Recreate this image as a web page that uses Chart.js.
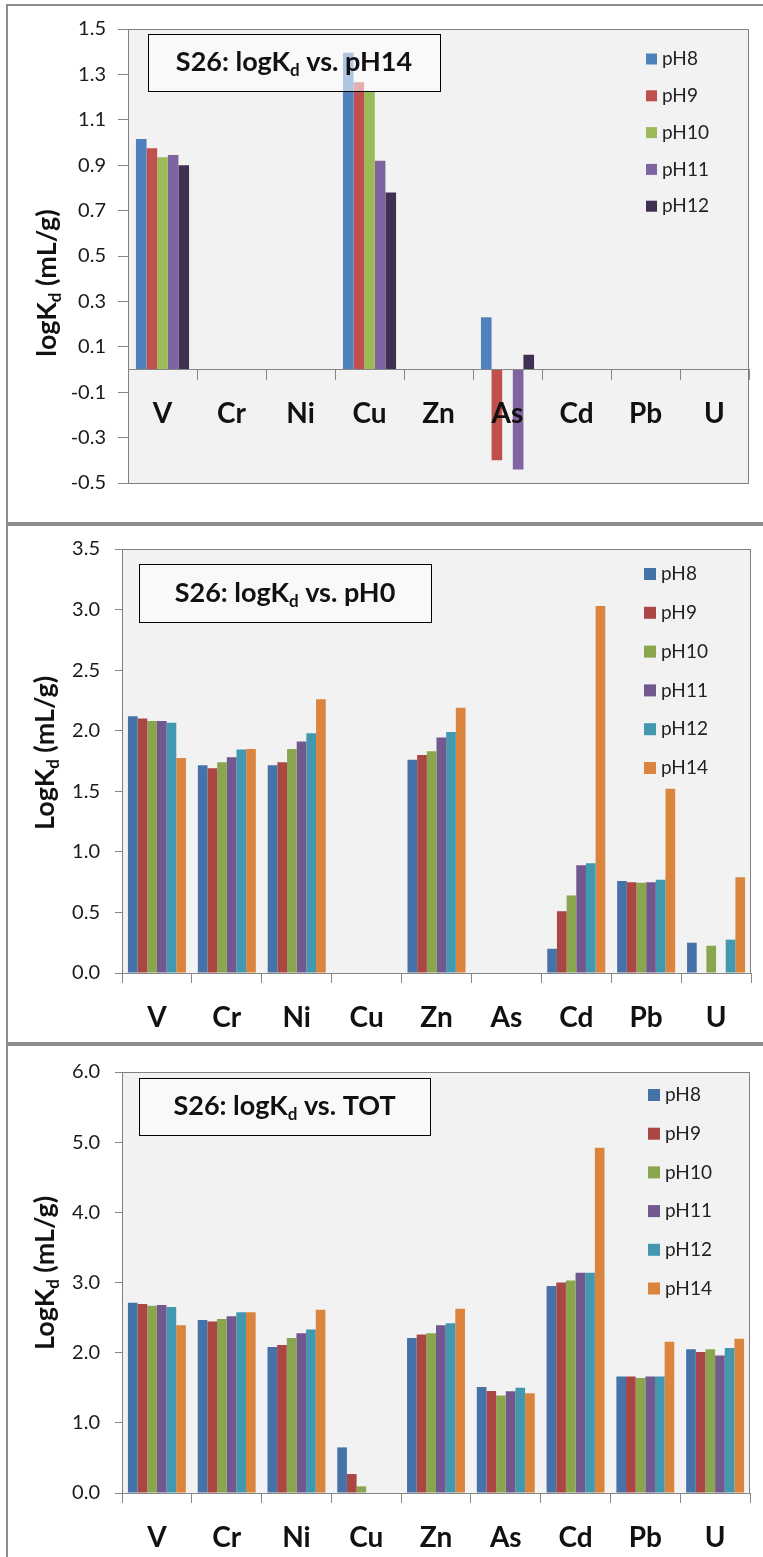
<!DOCTYPE html>
<html>
<head>
<meta charset="utf-8">
<script src="https://cdn.jsdelivr.net/npm/chart.js@4.4.1/dist/chart.umd.min.js"></script>
<style>
  html, body { margin: 0; padding: 0; background: #fff; }
  #page { position: relative; width: 763px; height: 1557px; overflow: hidden; }
  .frame { position: absolute; left: 6px; width: 800px; border-left: 2px solid #8c8c8c; border-top: 2px solid #8c8c8c; box-sizing: border-box; }
  canvas { position: absolute; left: 0; }
</style>
</head>
<body>
<div id="page">
  <div class="frame" style="top:4px;height:520px"></div>
  <div class="frame" style="top:522px;height:523px;border-top-width:4px"></div>
  <div class="frame" style="top:1042px;height:515px;border-top-width:4px"></div>
  <canvas id="c1" width="763" height="522" style="top:0"></canvas>
  <canvas id="c2" width="763" height="523" style="top:522px"></canvas>
  <canvas id="c3" width="763" height="512" style="top:1045px"></canvas>
</div>
<script>
// ---- data ----
const metals = ['V', 'Cr', 'Ni', 'Cu', 'Zn', 'As', 'Cd', 'Pb', 'U'];

// S26: logKd vs. pH14
const p1Series = ['pH8', 'pH9', 'pH10', 'pH11', 'pH12'];
const p1pH8  = [1.015, null, null, 1.395, null, 0.23,  null, null, null];
const p1pH9  = [0.975, null, null, 1.265, null, -0.40, null, null, null];
const p1pH10 = [0.935, null, null, 1.225, null, null,  null, null, null];
const p1pH11 = [0.945, null, null, 0.92,  null, -0.44, null, null, null];
const p1pH12 = [0.90,  null, null, 0.78,  null, 0.065, null, null, null];
const p1Ticks = [-0.5, -0.3, -0.1, 0.1, 0.3, 0.5, 0.7, 0.9, 1.1, 1.3, 1.5];

// S26: logKd vs. pH0
const p2Series = ['pH8', 'pH9', 'pH10', 'pH11', 'pH12', 'pH14'];
const p2pH8  = [2.12,  1.715, 1.715, null, 1.76,  null, 0.20,  0.76,  0.25];
const p2pH9  = [2.10,  1.69,  1.74,  null, 1.80,  null, 0.51,  0.75,  -0.015];
const p2pH10 = [2.08,  1.74,  1.85,  null, 1.83,  null, 0.64,  0.745, 0.225];
const p2pH11 = [2.08,  1.78,  1.91,  null, 1.945, null, 0.89,  0.75,  null];
const p2pH12 = [2.065, 1.845, 1.98,  null, 1.99,  null, 0.905, 0.77,  0.275];
const p2pH14 = [1.775, 1.85,  2.26,  null, 2.19,  null, 3.03,  1.52,  0.79];
const p2Ticks = [0, 0.5, 1.0, 1.5, 2.0, 2.5, 3.0, 3.5];

// S26: logKd vs. TOT
const p3Series = ['pH8', 'pH9', 'pH10', 'pH11', 'pH12', 'pH14'];
const p3pH8  = [2.71,  2.465, 2.08,  0.65,  2.21,  1.51,  2.95, 1.66,  2.05];
const p3pH9  = [2.695, 2.445, 2.11,  0.27,  2.26,  1.455, 3.00, 1.66,  2.01];
const p3pH10 = [2.67,  2.48,  2.21,  0.095, 2.275, 1.39,  3.03, 1.64,  2.05];
const p3pH11 = [2.68,  2.52,  2.275, null,  2.39,  1.45,  3.14, 1.66,  1.96];
const p3pH12 = [2.65,  2.575, 2.33,  null,  2.42,  1.50,  3.14, 1.66,  2.065];
const p3pH14 = [2.39,  2.575, 2.61,  null,  2.625, 1.42,  4.92, 2.155, 2.20];
const p3Ticks = [0, 1, 2, 3, 4, 5, 6];

const colorsLight = ['#4F81BD', '#C0504D', '#9BBB59', '#8064A2', '#403152'];
const colorsDark = ['#4572A7', '#AA4643', '#89A54E', '#71588F', '#4198AF', '#DB843D'];

Chart.defaults.font.family = 'Lato, "Open Sans", sans-serif';
Chart.defaults.color = '#1a1a1a';

// draw text with a subscript part, centred on (x, y)
function drawRich(ctx, parts, x, y, size) {
  const fontOf = p => 'bold ' + (p.sub ? Math.round(size * 0.62) : size) + 'px Lato';
  let total = 0;
  const widths = parts.map(p => { ctx.font = fontOf(p); const w = ctx.measureText(p.t).width; total += w; return w; });
  let cx = x - total / 2;
  ctx.textAlign = 'left';
  ctx.textBaseline = 'middle';
  parts.forEach((p, i) => {
    ctx.font = fontOf(p);
    ctx.fillText(p.t, cx, p.sub ? y + size * 0.3 : y);
    cx += widths[i];
  });
}

// plot area fill, border, title box, legend and axis title
const excelLook = {
  id: 'excelLook',
  beforeDraw(chart) {
    const { ctx, chartArea: a } = chart;
    ctx.save();
    ctx.fillStyle = '#f2f2f2';
    ctx.fillRect(a.left, a.top, a.width, a.height);
    ctx.restore();
  },
  afterDatasetsDraw(chart, args, o) {
    const { ctx, chartArea: a } = chart;
    ctx.save();
    ctx.strokeStyle = '#808080';
    ctx.lineWidth = 1;
    ctx.strokeRect(a.left + 0.5, a.top + 0.5, a.width - 1, a.height);

    // title box
    const [l, t, r, b] = o.box;
    ctx.fillStyle = 'rgba(255,255,255,0.55)';
    ctx.fillRect(l, t, r - l, b - t);
    ctx.strokeStyle = '#000';
    ctx.strokeRect(l + 0.5, t + 0.5, r - l, b - t);
    ctx.fillStyle = '#111';
    drawRich(ctx, o.title, (l + r) / 2, (t + b) / 2, o.titleSize);

    // legend
    chart.data.datasets.forEach((ds, i) => {
      const y = o.legY + i * o.legStep;
      ctx.fillStyle = ds.backgroundColor;
      ctx.fillRect(o.legX, y - o.legSq / 2, o.legSq, o.legSq);
      ctx.fillStyle = '#222';
      ctx.font = '19px Lato';
      ctx.textAlign = 'left';
      ctx.textBaseline = 'middle';
      ctx.fillText(ds.label, o.legX + o.legSq + 5, y);
    });

    // y axis title
    ctx.translate(o.yTitleX, o.yTitleY);
    ctx.rotate(-Math.PI / 2);
    ctx.fillStyle = '#111';
    drawRich(ctx, o.yTitle, 0, 0, 27);
    ctx.restore();
  }
};

function makeChart(id, series, values, colors, ticks, p) {
  const canvas = document.getElementById(id);
  const W = canvas.width, H = canvas.height;
  const ca = p.area;
  const atZero = p.axisAtZero;
  return new Chart(canvas, {
    type: 'bar',
    data: {
      labels: metals,
      datasets: series.map((s, i) => ({
        label: s,
        data: values[i],
        backgroundColor: colors[i],
        borderWidth: 0,
        categoryPercentage: p.catPct,
        barPercentage: 1
      }))
    },
    options: {
      responsive: false,
      animation: false,
      devicePixelRatio: 1,
      layout: { padding: { top: ca.t, right: W - ca.r, left: 0, bottom: atZero ? H - ca.b : 0 } },
      plugins: {
        legend: { display: false },
        tooltip: { enabled: false },
        excelLook: p.deco
      },
      scales: {
        x: {
          position: atZero ? { y: 0 } : 'bottom',
          grid: { offset: true, drawOnChartArea: false, drawTicks: true, tickLength: 10, color: '#868686' },
          border: { display: true, color: '#868686', z: 1 },
          // category labels sit on top of the bars, as in the original
          ticks: { z: 1, font: { size: 28, weight: 'bold' }, color: '#111', padding: p.xPad, maxRotation: 0 },
          afterFit: s => { if (!atZero) s.height = H - ca.b; }
        },
        y: {
          min: ticks[0],
          max: ticks[ticks.length - 1],
          afterBuildTicks: s => { s.ticks = ticks.map(v => ({ value: v })); },
          afterFit: s => { s.width = ca.l; },
          grid: { drawOnChartArea: false, drawTicks: true, tickLength: p.yTick, color: '#868686' },
          border: { display: true, color: '#868686' },
          ticks: { font: { size: 20 }, color: '#1a1a1a', padding: p.yPad, callback: v => Number(v).toFixed(1) }
        }
      }
    },
    plugins: [excelLook]
  });
}

const charts = [];

charts.push(makeChart('c1', p1Series, [p1pH8, p1pH9, p1pH10, p1pH11, p1pH12], colorsLight, p1Ticks, {
  area: { l: 128, t: 29, r: 749, b: 483 },
  axisAtZero: true, catPct: 0.77, xPad: 18, yTick: 10, yPad: 12,
  deco: {
    box: [148, 34, 440, 91], titleSize: 27,
    title: [{ t: 'S26: logK' }, { t: 'd', sub: true }, { t: ' vs. pH14' }],
    legX: 646, legY: 59, legStep: 36.8, legSq: 11,
    yTitle: [{ t: 'logK' }, { t: 'd', sub: true }, { t: ' (mL/g)' }], yTitleX: 47, yTitleY: 283
  }
}));

charts.push(makeChart('c2', p2Series, [p2pH8, p2pH9, p2pH10, p2pH11, p2pH12, p2pH14], colorsDark, p2Ticks, {
  area: { l: 122, t: 27, r: 751, b: 451 },
  axisAtZero: false, catPct: 0.83, xPad: 18, yTick: 7, yPad: 15,
  deco: {
    box: [139, 42, 431, 100], titleSize: 27,
    title: [{ t: 'S26: logK' }, { t: 'd', sub: true }, { t: ' vs. pH0' }],
    legX: 644, legY: 52, legStep: 38.8, legSq: 12,
    yTitle: [{ t: 'LogK' }, { t: 'd', sub: true }, { t: ' (mL/g)' }], yTitleX: 45, yTitleY: 231
  }
}));

charts.push(makeChart('c3', p3Series, [p3pH8, p3pH9, p3pH10, p3pH11, p3pH12, p3pH14], colorsDark, p3Ticks, {
  area: { l: 122, t: 25, r: 750, b: 448 },
  axisAtZero: false, catPct: 0.83, xPad: 18, yTick: 7, yPad: 15,
  deco: {
    box: [139, 33, 430, 90], titleSize: 27,
    title: [{ t: 'S26: logK' }, { t: 'd', sub: true }, { t: ' vs. TOT' }],
    legX: 648, legY: 50, legStep: 38.7, legSq: 12,
    yTitle: [{ t: 'LogK' }, { t: 'd', sub: true }, { t: ' (mL/g)' }], yTitleX: 45, yTitleY: 228
  }
}));
</script>
</body>
</html>
